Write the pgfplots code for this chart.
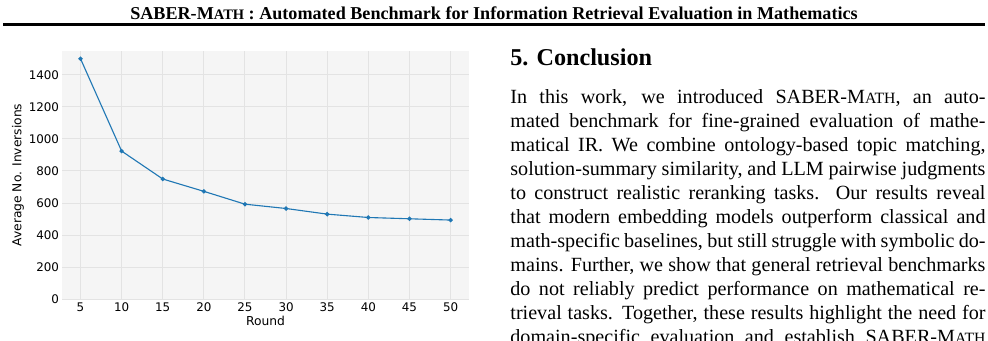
\documentclass[border=0pt]{standalone}
\usepackage{pgfplots}
\pgfplotsset{compat=1.18}
\usepackage{fontspec}
\setmainfont{Liberation Serif}
\newfontfamily\dejavu{DejaVu Sans}
\definecolor{bgc}{HTML}{F5F5F5}
\definecolor{gridc}{HTML}{E3E3E3}
\definecolor{mplblue}{HTML}{1F77B4}
\newcommand{\smath}[1]{M{\fontsize{#1}{#1}\selectfont ATH}}
\begin{document}
\begin{tikzpicture}[x=0.4967pt,y=-0.4967pt]
\useasboundingbox (0,0) rectangle (988,340);
\clip (0,0) rectangle (988,340);
\node[anchor=base, inner sep=0pt, font=\bfseries\fontsize{9}{10}\selectfont] at (494,19)
  {SABER-\smath{7.2} : Automated Benchmark for Information Retrieval Evaluation in Mathematics};
\draw[line width=1pt] (3,24.5) -- (985,24.5);
\node[anchor=base west, inner sep=0pt, font=\bfseries\fontsize{12}{14}\selectfont] at (510,65) {5. Conclusion};
\node[anchor=base west, inner sep=0pt] at (510,103.5) {\parbox[t]{236pt}{\fontsize{10}{11.92}\selectfont
\hyphenpenalty=10000 \exhyphenpenalty=10000 \tolerance=10000
In this work, we introduced SABER-\smath{7.8}, an auto-\linebreak
mated benchmark for fine-grained evaluation of mathe-\linebreak
matical IR. We combine ontology-based topic matching,\linebreak
solution-summary similarity, and LLM pairwise judgments\linebreak
to construct realistic reranking tasks. Our results reveal\linebreak
that modern embedding models outperform classical and\linebreak
math-specific baselines, but still struggle with symbolic do-\linebreak
mains. Further, we show that general retrieval benchmarks\linebreak
do not reliably predict performance on mathematical re-\linebreak
trieval tasks. Together, these results highlight the need for\linebreak
domain-specific evaluation and establish SABER-\smath{7.8}\linebreak
as a standard.}};
\coordinate (A) at (62,299.3);
\begin{axis}[
  at={(A)}, anchor=south west,
  scale only axis, width=202.2pt, height=123.5pt,
  xmin=2.75, xmax=52.25, ymin=0, ymax=1550,
  xtick={5,10,...,50}, ytick={0,200,...,1400},
  axis background/.style={fill=bgc},
  grid=major, major grid style={draw=gridc, line width=0.5pt},
  axis line style={draw=none}, major tick length=0pt,
  tick label style={font=\dejavu\fontsize{5.9}{7}\selectfont},
  label style={font=\dejavu\fontsize{6.1}{7}\selectfont},
  /pgf/number format/assume math mode=true,
  /pgf/number format/1000 sep={},
  scaled ticks=false,
  yticklabel style={inner sep=0pt, xshift=-1.3pt},
  xticklabel style={inner sep=0pt, yshift=-1.6pt},
  xlabel={Round}, ylabel={Average No. Inversions},
  xlabel style={at={(axis description cs:0.5,-0.0885)}, anchor=center},
  ylabel style={at={(axis description cs:-0.108,0.5)}, anchor=center},
]
\addplot[color=mplblue, line width=0.55pt, mark=*, mark size=0.8pt] coordinates {
  (5,1500) (10,924) (15,750) (20,673) (25,593) (30,566) (35,531) (40,510) (45,502) (50,494)
};
\end{axis}
\end{tikzpicture}
\end{document}
